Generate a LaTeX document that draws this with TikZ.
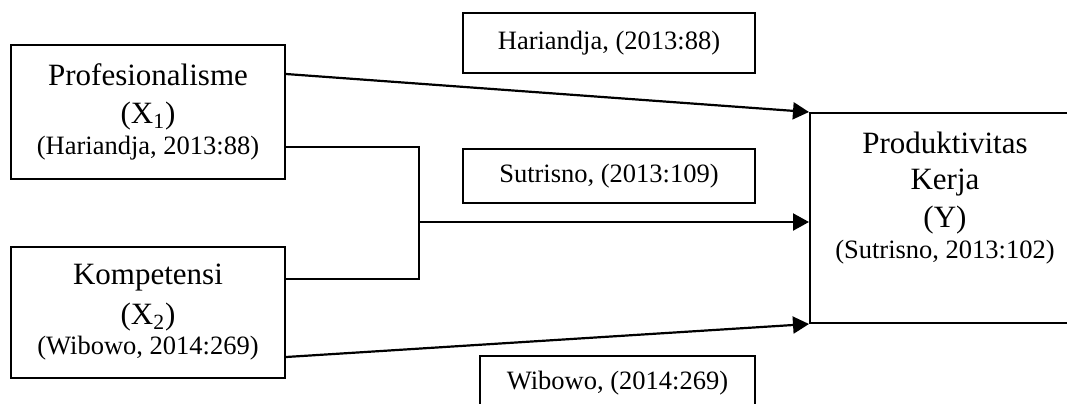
\documentclass[tikz,border=0pt]{standalone}
\usepackage{fontspec}
\setmainfont{Liberation Serif}
\usetikzlibrary{arrows.meta, positioning}
\newcommand{\varsize}{\fontsize{15.5pt}{19pt}\selectfont}
\newcommand{\citesize}{\fontsize{13.25pt}{15.5pt}\selectfont}

\begin{document}
\begin{tikzpicture}[x=0.5pt, y=-0.5pt, line width=1pt, >={Triangle[length=8pt, width=8.5pt]},
    varbox/.style={draw, align=center, minimum width=137pt, minimum height=67pt, inner sep=0pt, font=\varsize},
    citebox/.style={draw, minimum width=146pt, minimum height=27pt, font=\citesize},
    link/.style={->, line width=1.1pt}]
    \useasboundingbox (0,0) rectangle (1067,403);
    \clip (0,0) rectangle (1067,403);

    \node[varbox] (x1) at (148,112) {Profesionalisme\\(X\textsubscript{1})\\[-3.5pt]{\citesize(Hariandja, 2013:88)}};
    \node[varbox, minimum height=65.5pt, below=33pt of x1] (x2) {Kompetensi\\[1pt](X\textsubscript{2})\\[-4pt]{\citesize(Wibowo, 2014:269)}};

    \node[draw, minimum width=135pt, minimum height=105pt] (prod) at (945,218) {};
    \node[align=center, inner sep=0pt, font=\varsize, below=9.5pt of prod.north] (prodtxt) {Produktivitas\\[-1pt]Kerja\\(Y)\\[-3.5pt]{\citesize(Sutrisno, 2013:102)}};

    \node[citebox, minimum height=30pt] (hari) at (609,43) {Hariandja, (2013:88)};
    \node[citebox, below=37pt of hari] (sutr) {Sutrisno, (2013:109)};
    \node[citebox, minimum width=137.5pt] (wibo) at (617.5,383) {Wibowo, (2014:269)};

    \coordinate (join) at (419,222);

    \draw[link] ([yshift=19pt]x1.east) -- (prod.north west);
    \draw ([yshift=-17.5pt]x1.east) -| (join) |- ([yshift=16.75pt]x2.east);
    \draw[link] (join) -- (join -| prod.west);
    \draw[link] ([yshift=-22.25pt]x2.east) -- (prod.south west);
\end{tikzpicture}
\end{document}
